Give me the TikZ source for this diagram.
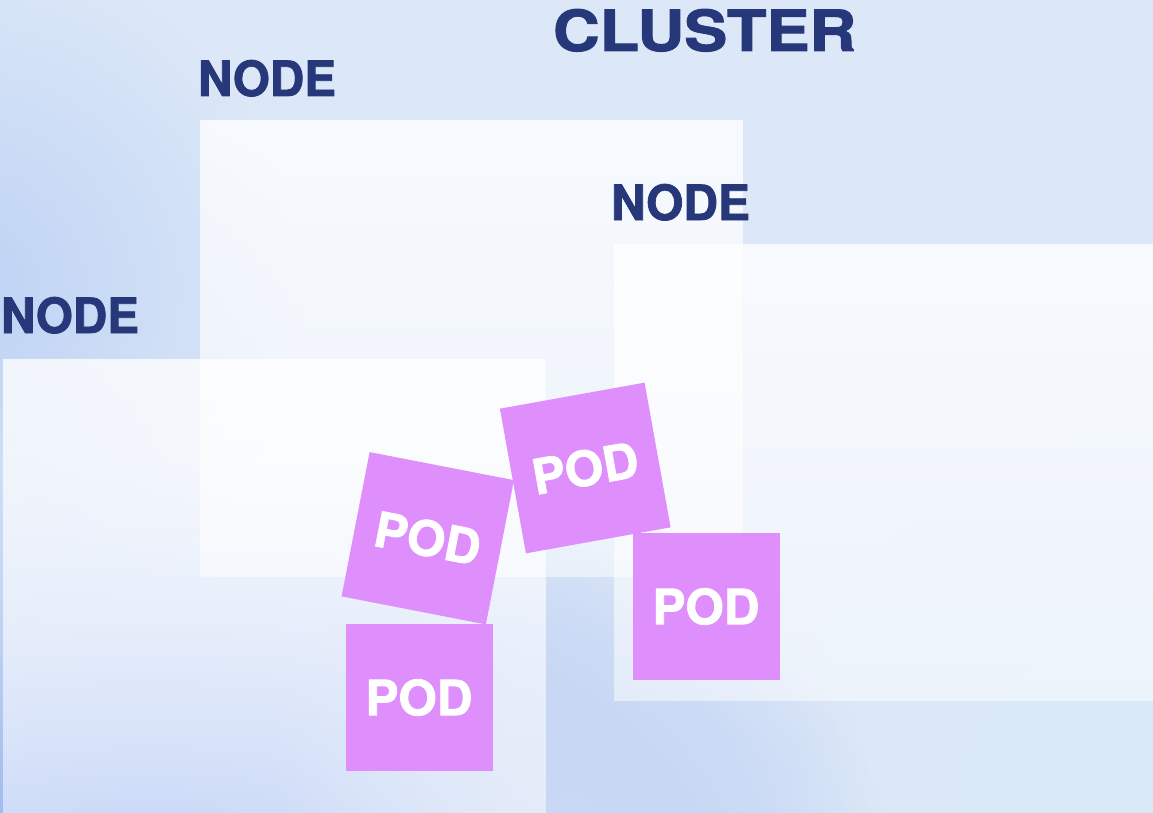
\documentclass[tikz,border=0pt]{standalone}
\usepackage{fontspec}
\usepackage{graphicx}
\newfontfamily\heavyfam{TeX Gyre Heros}[BoldFeatures={FakeBold=1.6}]
\def\heavy{\heavyfam\bfseries}
\usetikzlibrary{fadings}

\definecolor{bg}{HTML}{DCE8F8}
\definecolor{ink}{HTML}{26387A}
\definecolor{podfill}{HTML}{DF8FFC}
\definecolor{haze}{HTML}{BDD2F4}
\definecolor{deephaze}{HTML}{8AAAF0}
\definecolor{midhaze}{HTML}{CAD9F4}
\definecolor{palehaze}{HTML}{DAEAF9}

% radial fade: opaque in the middle, clear at the rim
\tikzfading[name=softspot, inner color=transparent!0, outer color=transparent!100]
% glass panels: a little more solid at the top
\tikzfading[name=panelfade, top color=transparent!22, bottom color=transparent!50]

% word set in the heavy face, stretched to a given width and height
\newcommand\heavyword[3]{\resizebox{#1}{#2}{\heavy #3}}

\tikzset{
  nodebox/.style={fill=white, path fading=panelfade, draw=none, inner sep=0pt,
                  outer sep=0pt, anchor=north west},
  heading/.style={text=ink, inner sep=0pt, outer sep=0pt, anchor=base west},
  pod/.style={fill=podfill, draw=none, text=white, inner sep=0pt,
              minimum size=147pt},
  blob/.style={fill=#1, path fading=softspot},
}

\begin{document}
\begin{tikzpicture}[x=1pt,y=-1pt]
\useasboundingbox (0,0) rectangle (1153,813);

% soft blue backdrop
\begin{scope}
  \clip (0,0) rectangle (1153,813);
  \fill[bg] (0,0) rectangle (1153,813);
  \fill[blob=haze] (-40,290) circle (340);
  \fill[blob=deephaze] (150,905) ellipse (760 and 440);
  \fill[blob=midhaze] (570,813) circle (300);
  \fill[blob=palehaze] (1153,813) circle (380);
\end{scope}

% cluster title
\node[heading] (cluster) at (553,51) {\heavyword{303pt}{42pt}{CLUSTER}};

% the three machines
\node[nodebox, minimum width=543pt, minimum height=457pt] (nodeA) at (200,120) {};
\node[heading] (nodeAlabel) at (198,96) {\heavyword{138pt}{36pt}{NODE}};

\node[nodebox, minimum width=539pt, minimum height=457pt] (nodeB) at (614,244) {};
\node[heading] (nodeBlabel) at (611,220) {\heavyword{139pt}{36pt}{NODE}};

\node[nodebox, minimum width=543pt, minimum height=454pt] (nodeC) at (3,359) {};
\node[heading] (nodeClabel) at (1,333) {\heavyword{138pt}{36pt}{NODE}};

% pods
\node[pod, rotate=-11] (pod1) at (427.75,538.25) {\heavyword{107pt}{36pt}{POD}};
\node[pod, rotate=10.2] (pod2) at (585.25,468) {\heavyword{107pt}{36pt}{POD}};
\node[pod] (pod3) at (706,606.5) {\heavyword{107pt}{36pt}{POD}};
\node[pod] (pod4) at (419,697.5) {\heavyword{107pt}{36pt}{POD}};
\end{tikzpicture}
\end{document}
